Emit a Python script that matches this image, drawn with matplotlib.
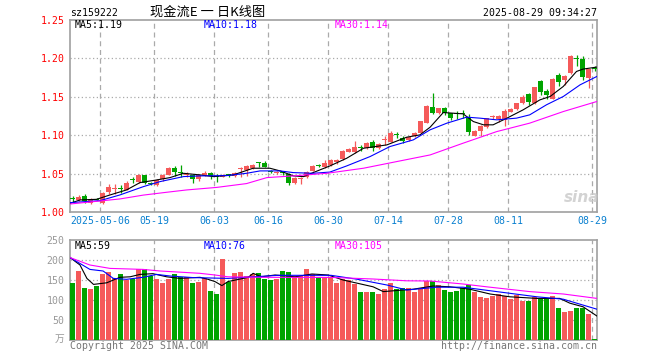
import matplotlib
matplotlib.use("Agg")
import matplotlib.pyplot as plt

# daily candles, oldest first (open, high, low, close)
opens = [1.0170, 1.0157, 1.0210, 1.0122, 1.0170, 1.0122, 1.0265, 1.0305, 1.0315, 1.0287,
         1.0422, 1.0396, 1.0483, 1.0370, 1.0352, 1.0426, 1.0483, 1.0578, 1.0520, 1.0478,
         1.0483, 1.0426, 1.0483, 1.0504, 1.0465, 1.0461, 1.0485, 1.0470, 1.0565, 1.0548,
         1.0570, 1.0638, 1.0643, 1.0530, 1.0509, 1.0508, 1.0496, 1.0383, 1.0426, 1.0461,
         1.0539, 1.0603, 1.0583, 1.0613, 1.0645, 1.0687, 1.0787, 1.0787, 1.0833, 1.0830,
         1.0917, 1.0830, 1.0935, 1.0917, 1.1006, 1.0970, 1.0939, 1.0991, 1.1035, 1.1165,
         1.1365, 1.1287, 1.1352, 1.1287, 1.1287, 1.1278, 1.1243, 1.0996, 1.1061, 1.1113,
         1.1238, 1.1209, 1.1200, 1.1305, 1.1343, 1.1417, 1.1535, 1.1417, 1.1700, 1.1570,
         1.1474, 1.1787, 1.1722, 1.1809, 1.2000, 1.1996, 1.1743, 1.1874]
highs = [1.0205, 1.0215, 1.0235, 1.0180, 1.0180, 1.0260, 1.0360, 1.0360, 1.0350, 1.0400,
         1.0455, 1.0490, 1.0485, 1.0395, 1.0430, 1.0500, 1.0580, 1.0600, 1.0610, 1.0526,
         1.0490, 1.0490, 1.0530, 1.0520, 1.0500, 1.0500, 1.0500, 1.0520, 1.0583, 1.0610,
         1.0625, 1.0650, 1.0660, 1.0545, 1.0530, 1.0520, 1.0510, 1.0450, 1.0450, 1.0530,
         1.0610, 1.0620, 1.0680, 1.0690, 1.0690, 1.0810, 1.0830, 1.0920, 1.0870, 1.0910,
         1.0939, 1.0900, 1.0990, 1.1050, 1.1040, 1.0985, 1.0980, 1.1045, 1.1190, 1.1390,
         1.1548, 1.1360, 1.1370, 1.1290, 1.1310, 1.1330, 1.1270, 1.1070, 1.1130, 1.1230,
         1.1265, 1.1260, 1.1340, 1.1350, 1.1425, 1.1520, 1.1550, 1.1625, 1.1713, 1.1600,
         1.1740, 1.1810, 1.1780, 1.2039, 1.2048, 1.2035, 1.1865, 1.1896]
lows = [1.0135, 1.0140, 1.0120, 1.0110, 1.0150, 1.0110, 1.0235, 1.0235, 1.0245, 1.0280,
        1.0380, 1.0380, 1.0360, 1.0352, 1.0340, 1.0410, 1.0480, 1.0470, 1.0461, 1.0452,
        1.0374, 1.0410, 1.0470, 1.0426, 1.0396, 1.0450, 1.0460, 1.0460, 1.0460, 1.0470,
        1.0555, 1.0590, 1.0580, 1.0510, 1.0490, 1.0485, 1.0355, 1.0370, 1.0370, 1.0445,
        1.0530, 1.0580, 1.0575, 1.0600, 1.0630, 1.0680, 1.0780, 1.0765, 1.0800, 1.0820,
        1.0796, 1.0820, 1.0875, 1.0905, 1.0960, 1.0900, 1.0930, 1.0980, 1.1030, 1.1155,
        1.1270, 1.1280, 1.1260, 1.1200, 1.1217, 1.1230, 1.1000, 1.0990, 1.0996, 1.1100,
        1.1205, 1.1170, 1.1122, 1.1300, 1.1330, 1.1404, 1.1396, 1.1410, 1.1526, 1.1475,
        1.1470, 1.1643, 1.1648, 1.1796, 1.1896, 1.1722, 1.1613, 1.1835]
closes = [1.0165, 1.0200, 1.0148, 1.0165, 1.0160, 1.0243, 1.0330, 1.0315, 1.0305, 1.0383,
          1.0415, 1.0483, 1.0383, 1.0365, 1.0417, 1.0483, 1.0578, 1.0526, 1.0513, 1.0488,
          1.0426, 1.0483, 1.0513, 1.0470, 1.0460, 1.0483, 1.0480, 1.0513, 1.0570, 1.0600,
          1.0613, 1.0633, 1.0591, 1.0524, 1.0515, 1.0502, 1.0374, 1.0439, 1.0432, 1.0526,
          1.0600, 1.0598, 1.0643, 1.0678, 1.0678, 1.0800, 1.0817, 1.0852, 1.0828, 1.0896,
          1.0830, 1.0887, 1.0940, 1.1026, 1.1000, 1.0926, 1.0974, 1.1035, 1.1187, 1.1383,
          1.1287, 1.1352, 1.1287, 1.1230, 1.1276, 1.1272, 1.1048, 1.1061, 1.1122, 1.1222,
          1.1243, 1.1252, 1.1309, 1.1343, 1.1417, 1.1496, 1.1430, 1.1622, 1.1561, 1.1517,
          1.1730, 1.1691, 1.1774, 1.2026, 1.1993, 1.1752, 1.1861, 1.1868]

# volume (10k shares)
volumes = [143, 173, 131, 127, 136, 165, 171, 154, 165, 150,
           152, 177, 177, 160, 152, 143, 152, 165, 157, 157,
           142, 146, 154, 123, 115, 202, 145, 168, 171, 160,
           165, 168, 152, 150, 152, 173, 171, 160, 160, 177,
           165, 157, 157, 157, 143, 152, 150, 141, 121, 121,
           121, 115, 127.5, 143, 127, 129, 129, 121, 129, 148,
           148, 137.5, 125, 121, 123, 129, 137.5, 121, 108, 106,
           110, 115, 110, 102, 112, 98, 98, 107, 102, 102,
           110, 81, 71, 73, 81, 79, 65, 2.5]

# moving average lines: (bar position, value)
ma5_x = [-0.4, 1.25, 4.0, 6.25, 9.0, 11.25, 14.0, 16.25, 18.5, 21.25, 23.5, 26.8, 30.1,
         32.9, 34.6, 36.8, 38.5, 40.1, 42.9, 45.7, 48.5, 52.4, 55.7, 57.9, 59.6, 61.8,
         65.1, 66.8, 68.5, 70.1, 72.4, 75.1, 77.9, 79.6, 81.8, 84.0, 85.1, 87.4]
ma5_y = [1.0113, 1.0157, 1.0165, 1.0222, 1.0287, 1.0383, 1.0417, 1.0448, 1.0504, 1.0483,
         1.0461, 1.0483, 1.0570, 1.0570, 1.0535, 1.0470, 1.0461, 1.0513, 1.0600, 1.0700,
         1.0830, 1.0874, 1.0974, 1.1004, 1.1104, 1.1295, 1.1278, 1.1178, 1.1135, 1.1135,
         1.1222, 1.1330, 1.1460, 1.1504, 1.1635, 1.1830, 1.1861, 1.1887]
ma10_x = [-0.4, 4.6, 7.9, 11.8, 14.6, 18.5, 21.25, 25.7, 29.0, 31.25, 34.6, 36.8, 40.1,
          42.9, 45.7, 49.6, 52.9, 56.8, 59.6, 62.4, 65.7, 67.9, 70.7, 74.0, 76.2, 79.0,
          81.8, 84.6, 87.4]
ma10_y = [1.0122, 1.0148, 1.0222, 1.0330, 1.0396, 1.0461, 1.0470, 1.0474, 1.0504, 1.0535,
          1.0535, 1.0513, 1.0504, 1.0520, 1.0600, 1.0722, 1.0852, 1.0939, 1.1070, 1.1157,
          1.1235, 1.1222, 1.1200, 1.1222, 1.1265, 1.1396, 1.1504, 1.1656, 1.1765]
ma30_x = [-0.4, 3.5, 7.9, 11.8, 15.7, 19.0, 24.0, 29.0, 32.4, 36.8, 42.4, 48.5, 54.0,
          59.6, 65.1, 70.7, 76.2, 81.8, 87.4]
ma30_y = [1.0104, 1.0135, 1.0170, 1.0220, 1.0257, 1.0287, 1.0320, 1.0370, 1.0448, 1.0470,
          1.0504, 1.0570, 1.0656, 1.0743, 1.0896, 1.1047, 1.1157, 1.1308, 1.1439]

vma5_x = [-0.4, 1.25, 2.4, 3.5, 5.7, 7.9, 9.6, 11.25, 13.4, 15.7, 17.9, 21.25, 22.6,
          23.75, 24.9, 25.9, 29.3, 30.1, 31.5, 33.75, 37.1, 39.9, 42.6, 45.1, 50.1, 51.8,
          56.8, 60.1, 62.9, 66.2, 69.6, 72.9, 77.4, 81.2, 82.9, 85.1, 87.4]
vma5_y = [206, 187.5, 154, 139, 143, 156.7, 158, 164, 165.8, 158, 154, 156.7, 151.7,
          146, 136, 146, 156.7, 166.7, 158, 162.5, 158, 165, 162.5, 150, 133, 121,
          127, 135, 133, 127, 115, 108, 104, 104, 92, 83, 60]
vma10_x = [-0.4, 2.9, 5.1, 6.8, 9.0, 11.75, 14.0, 16.25, 20.1, 25.9, 28.75, 34.3, 43.1,
           47.4, 52.4, 55.7, 60.7, 65.1, 70.7, 77.4, 81.8, 87.4]
vma10_y = [206, 176.5, 172.5, 154, 151.7, 156.7, 164, 160, 156, 154, 156.7, 161.7, 161.7,
           152, 137.5, 125, 132, 132, 121, 108, 102, 77]
vma30_x = [-0.4, 2.9, 6.25, 11.75, 14.6, 21.25, 23.75, 25.9, 31.5, 43.0, 50.1, 55.7,
           59.6, 65.1, 69.0, 76.2, 81.8, 87.4]
vma30_y = [206, 187.5, 179, 176.5, 172.5, 166.7, 162.5, 158, 156.7, 156.5, 152.5, 148,
           147.5, 140, 133, 121, 115, 104]

date_pos = [5, 14, 24, 33, 43, 53, 63, 73, 87]
date_labels = ["2025-05-06", "05-19", "06-03", "06-16", "06-30", "07-14", "07-28", "08-11", "08-29"]
price_ticks = [1.00, 1.05, 1.10, 1.15, 1.20, 1.25]
vol_ticks = [50, 100, 150, 200, 250]

RED = "#f55a5a"
GREEN = "#00a400"
GRAY = "#999999"
BLUE_TXT = "#0a80d0"
MONO = "DejaVu Sans Mono"

W, H = 660, 360
fig = plt.figure(figsize=(W / 100, H / 100), dpi=100)


def px_axes(x0, y0, x1, y1):
    return fig.add_axes([x0 / W, 1 - y1 / H, (x1 - x0) / W, (y1 - y0) / H])


def ftext(x, y, s, **kw):
    kw.setdefault("family", MONO)
    kw.setdefault("fontsize", 7.1)
    kw.setdefault("va", "center")
    fig.text(x / W, 1 - y / H, s, **kw)


ax = px_axes(70, 20, 597, 212)
ax2 = px_axes(70, 240, 597, 340)

n = len(closes)
idx = list(range(n))
cols = [RED if c >= o else GREEN for o, c in zip(opens, closes)]
# one bar every 6 px, the first bar starts on the left frame
xmin, xmax = -2.5 / 6, -2.5 / 6 + 527 / 6

# candles
ax.vlines(idx, lows, highs, colors=cols, linewidth=0.9, zorder=3)
bottoms = [min(o, c) for o, c in zip(opens, closes)]
heights = [max(abs(c - o), 0.0013) for o, c in zip(opens, closes)]
ax.bar(idx, heights, bottom=bottoms, width=5 / 6, color=cols, linewidth=0, zorder=4)

ax.plot(ma5_x, ma5_y, color="black", lw=0.8, zorder=5)
ax.plot(ma10_x, ma10_y, color="#0000ff", lw=0.8, zorder=5)
ax.plot(ma30_x, ma30_y, color="#ff00ff", lw=0.8, zorder=5)

# volume
ax2.bar(idx, volumes, width=5 / 6, color=cols, linewidth=0, zorder=3)
ax2.plot(vma5_x, vma5_y, color="black", lw=0.8, zorder=5)
ax2.plot(vma10_x, vma10_y, color="#0000ff", lw=0.8, zorder=5)
ax2.plot(vma30_x, vma30_y, color="#ff00ff", lw=0.8, zorder=5)

line_x = [p - 2.5 / 6 for p in date_pos]
for a in (ax, ax2):
    a.set_xlim(xmin, xmax)
    for s in a.spines.values():
        s.set_color("#a0a0a0")
        s.set_linewidth(1.2)
    a.tick_params(length=0)
    a.set_xticks([])

ax.set_ylim(1.0, 1.25)
ax.set_yticks(price_ticks)
ax.set_yticklabels(["%.2f" % v for v in price_ticks], color="#ff0000", family=MONO, fontsize=7.1)
ax.tick_params(axis="y", pad=4)
for v in price_ticks[1:-1]:
    ax.axhline(v, color="#aaaaaa", lw=0.9, ls=(0, (1, 2)), zorder=1)
for lx in line_x:
    ax.axvline(lx, color="#aaaaaa", lw=0.9, ls=(0, (4, 3)), zorder=1)

ax2.set_ylim(0, 250)
ax2.set_yticks(vol_ticks)
ax2.set_yticklabels([str(v) for v in vol_ticks], color=GRAY, family=MONO, fontsize=7.1)
ax2.tick_params(axis="y", pad=4)
for v in vol_ticks[:-1]:
    ax2.axhline(v, color="#aaaaaa", lw=0.9, ls=(0, (1, 2)), zorder=1)
for lx in line_x[1:]:
    ax2.axvline(lx, color="#aaaaaa", lw=0.9, ls=(0, (4, 3)), zorder=1)

# date labels under the price panel
for lx, lab in zip(line_x, date_labels):
    px = 70 + (lx - xmin) / (xmax - xmin) * 527
    ftext(px, 221.5, lab, color=BLUE_TXT, ha="center")

# header
ftext(70, 13, "sz159222", color="black")
ftext(150, 12.5, "现金流E 一 日K线图", color="black", family=["Noto Sans CJK SC", "DejaVu Sans"],
      fontsize=9.5)
ftext(597, 13, "2025-08-29 09:34:27", color="black", ha="right")

ftext(75, 25.5, "MA5:1.19", color="black")
ftext(204, 25.5, "MA10:1.18", color="#0000ff")
ftext(335, 25.5, "MA30:1.14", color="#ff00ff")
ftext(75, 246, "MA5:59", color="black")
ftext(204, 246, "MA10:76", color="#0000ff")
ftext(335, 246, "MA30:105", color="#ff00ff")

ftext(64, 339, "万", color=GRAY, ha="right", family=["Noto Sans CJK SC", "DejaVu Sans"], fontsize=7)
ftext(70, 346, "Copyright 2025 SINA.COM", color="#777777")
ftext(597, 346, "http://finance.sina.com.cn", color="#777777", ha="right")

# faint sina watermark
ftext(582, 197, "sina", color="#c8c8c8", ha="center", family="DejaVu Sans", fontsize=11,
      style="italic", weight="bold", alpha=0.8)

fig.savefig("out.png", dpi=100)
